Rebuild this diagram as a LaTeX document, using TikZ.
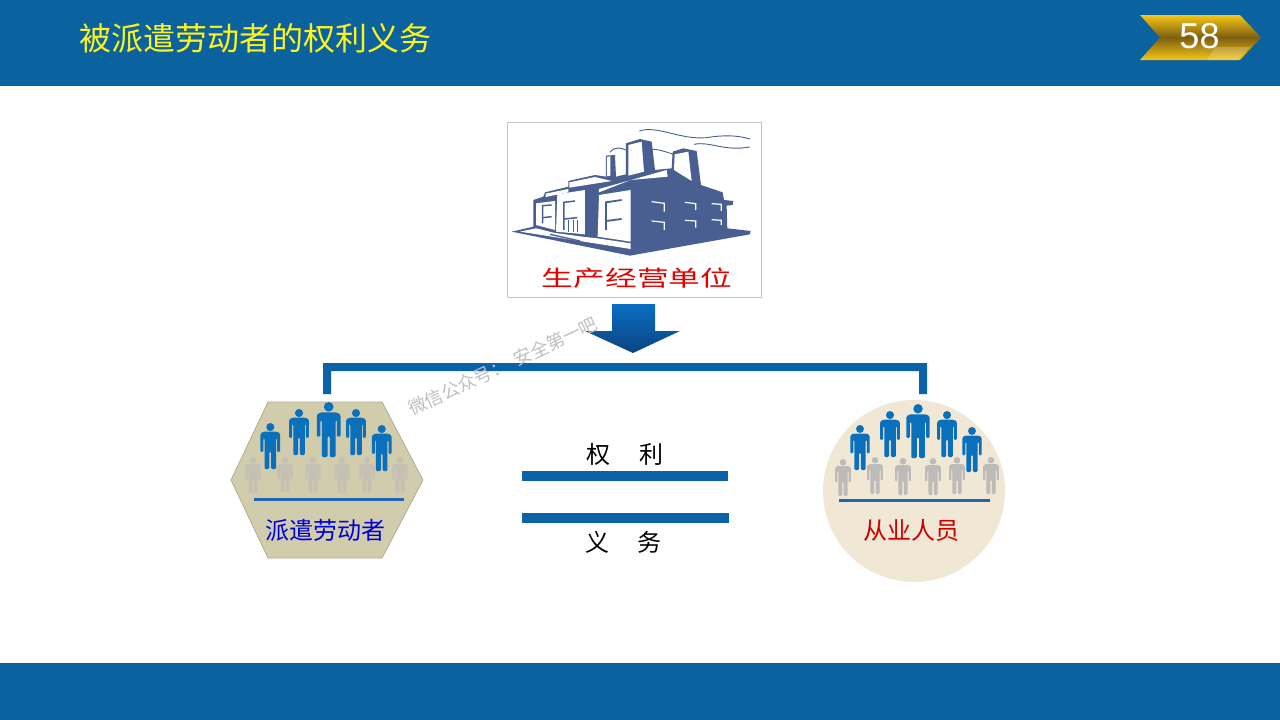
\documentclass[tikz,border=0pt]{standalone}
\usepackage{fontspec}
\setmainfont{Liberation Sans}
\newfontfamily\cjk{Noto Sans CJK SC}
\definecolor{bandblue}{HTML}{0A629F}
\definecolor{barblue}{HTML}{0B62A8}
\definecolor{personblue}{HTML}{0B70BB}
\definecolor{factoryblue}{HTML}{4A5F91}
\definecolor{hexfill}{HTML}{D1CCAB}
\definecolor{circfill}{HTML}{F0E8D4}
\definecolor{hexgray}{HTML}{C4C1B4}
\definecolor{circgray}{HTML}{BDBBB8}
\definecolor{rulecol}{HTML}{1F66AE}
\definecolor{goldlight}{HTML}{F5C518}
\definecolor{golddark}{HTML}{7E5F10}
\definecolor{arrowtop}{HTML}{0A6EC4}
\definecolor{arrowbot}{HTML}{0B4480}
\tikzset{
  band/.style={fill=bandblue,draw=none},
  barshape/.style={fill=barblue,draw=none},
  rulebar/.style={draw=rulecol,line width=3pt},
  txt/.style={inner sep=0pt,outer sep=0pt,font=\cjk},
  facewhite/.style={fill=white,draw=none},
  fstroke/.style={draw=factoryblue,line width=1.5pt,line cap=butt},
  wstroke/.style={draw=white,line width=1.2pt,line cap=butt},
  smoke/.style={draw=factoryblue,line width=.9pt}
}
% x, top, feet, colour
\newcommand{\figperson}[4]{%
  \pgfmathsetmacro{\hh}{#3-#2}%
  \begin{scope}[shift={(#1,#2)},scale=\hh]
    \fill[#4] (0,.088) circle (.088);
    \fill[#4,rounded corners=1.2pt] (-.15,.19) -- (.15,.19) -- (.215,.23) -- (.215,.63) -- (.15,.63) -- (.15,.33) -- (.125,.33) -- (.125,1) -- (.02,1) -- (.02,.62) -- (-.02,.62) -- (-.02,1) -- (-.125,1) -- (-.125,.33) -- (-.15,.33) -- (-.15,.63) -- (-.215,.63) -- (-.215,.23) -- cycle;
  \end{scope}}
\begin{document}
\begin{tikzpicture}[x=1pt,y=-1pt]
\useasboundingbox (0,0) rectangle (1280,720);
\fill[white] (0,0) rectangle (1280,720);
% bands
\path[band] (0,0) rectangle (1280,86);
\path[band] (0,663) rectangle (1280,720);
\node[txt,anchor=center,text=yellow!90!white,font=\cjk\fontsize{32}{32}\selectfont] (title) at (255.5,38) {被派遣劳动者的权利义务};
% badge
\path[top color=goldlight,bottom color=goldlight,middle color=golddark,draw=none]
  (1140,15) -- (1240,15) -- (1261,37.5) -- (1240,60) -- (1140,60) -- (1160,37.5) -- cycle;
\fill[white,opacity=.2] (1215,47) -- (1250,47) -- (1238,60) -- (1207,60) -- cycle;
\node[inner sep=0pt,text=white,font=\fontsize{36}{36}\selectfont] (num) at (1199.5,36) {58};
% factory frame
\draw[draw=black!23,line width=1pt,fill=white] (507,122) rectangle (761,297);
\begin{scope}[shift={(500,115)},x=.3333pt,y=-.3333pt]
  \fill[factoryblue] (35,350) -- (100,335) -- (100,255) -- (130,245) -- (135,232) -- (205,215) -- (205,198) -- (285,180) -- (318,185) -- (318,122) -- (345,120) -- (348,185) -- (378,178) -- (378,85) -- (420,72) -- (455,80) -- (465,165) -- (515,160) -- (518,110) -- (550,100) -- (590,108) -- (603,210) -- (668,232) -- (672,255) -- (700,258) -- (698,270) -- (680,272) -- (682,340) -- (752,348) -- (750,358) -- (390,422) -- cycle;
  % white faces
  \path[facewhite] (385,90) -- (425,80) -- (432,170) -- (385,182) -- cycle;
  \path[facewhite] (524,118) -- (565,110) -- (575,198) -- (522,165) -- cycle;
  \path[facewhite] (321,126) -- (331,124) -- (331,182) -- (321,184) -- cycle;
  \path[facewhite] (108,265) -- (165,258) -- (165,345) -- (108,330) -- cycle;
  \path[facewhite] (172,238) -- (255,225) -- (255,358) -- (168,350) -- cycle;
  \path[facewhite] (297,240) -- (392,225) -- (392,380) -- (293,365) -- cycle;
  \path[facewhite] (137,236) -- (205,222) -- (205,232) -- (137,246) -- cycle;
  \path[facewhite] (208,202) -- (285,186) -- (335,198) -- (208,218) -- cycle;
  \path[facewhite] (297,222) -- (500,165) -- (503,185) -- (392,195) -- (297,232) -- cycle;
  \path[facewhite] (60,350) -- (108,340) -- (165,354) -- (255,366) -- (292,370) -- (392,385) -- (392,402) -- cycle;
  \draw[factoryblue,line width=1.3pt] (150,358) -- (240,378);
  % window marks (dark)
  \draw[fstroke] (155,270) -- (128,272) -- (128,325);
  \draw[fstroke] (155,305) -- (128,308);
  \draw[fstroke] (225,258) -- (192,262) -- (192,345);
  \draw[fstroke] (232,308) -- (192,312);
  \draw[fstroke,line width=1pt] (207,315) -- (207,350);
  \draw[fstroke,line width=1pt] (220,315) -- (220,352);
  \draw[fstroke,line width=1pt] (232,315) -- (232,352);
  \draw[fstroke,line width=1.8pt] (365,255) -- (318,262) -- (318,345);
  \draw[fstroke,line width=1.8pt] (365,312) -- (318,318);
  % window marks (white)
  \draw[wstroke] (455,260) -- (493,265) -- (493,290);
  \draw[wstroke] (455,318) -- (493,322) -- (493,345);
  \draw[wstroke] (555,262) -- (587,266) -- (587,285);
  \draw[wstroke] (555,316) -- (587,318) -- (587,338);
  \draw[wstroke] (635,266) -- (664,268) -- (664,288);
  \draw[wstroke] (635,314) -- (664,316) -- (664,330);
  % smoke
  \draw[smoke] (418,48) .. controls (470,30) and (540,75) .. (620,68) .. controls (670,60) and (710,60) .. (750,72);
  \draw[smoke] (582,88) .. controls (630,78) and (670,110) .. (750,96);
  \draw[smoke] (330,112) .. controls (345,92) and (365,100) .. (378,105);
  \draw[smoke] (455,103) .. controls (475,102) and (495,110) .. (520,118);
\end{scope}
\node[txt,text=red!90!black,font=\cjk\fontsize{22}{22}\selectfont,xscale=1.44] (unit) at (637,278) {生产经营单位};
% arrow
\path[top color=arrowtop,bottom color=arrowbot,draw=none] (612,304) -- (655,304) -- (655,331) -- (680,331) -- (633,353) -- (585,331) -- (612,331) -- cycle;
% bracket
\path[barshape] (323,394) -- (323,363) -- (927,363) -- (927,394) -- (919,394) -- (919,371) -- (331,371) -- (331,394) -- cycle;
% watermark
\node[txt,text=black!25,rotate=25,font=\cjk\fontsize{18}{18}\selectfont] (wm) at (503,366) {微信公众号：\hspace{8pt}安全第一吧};
% hexagon
\draw[fill=hexfill,draw=hexfill!85!black,line width=.8pt] (268,402) -- (382,402) -- (423,480) -- (382,558) -- (268,558) -- (231,480) -- cycle;
\foreach \x/\t/\b in {253/457/493,285/457/492,313/457/493,342/457/493,367/457/492,400/457/493}{\figperson{\x}{\t}{\b}{hexgray}}
\foreach \x/\t/\b in {270.3/423/469,299/409/455,328.7/402/457,356/409/455,381.7/425/471}{\figperson{\x}{\t}{\b}{personblue}}
\draw[rulebar] (254,499) -- (404,499);
\node[txt,text=blue!85!black,font=\cjk\fontsize{24}{24}\selectfont] (pq) at (325,530) {派遣劳动者};
% circle
\fill[circfill] (914,491) circle (91);
\foreach \x/\t/\b in {843/459/496,875/457/494,903/458/495,933/458/495,957/457/494,991/457/494}{\figperson{\x}{\t}{\b}{circgray}}
\foreach \x/\t/\b in {860/425/470,890/411/457,918/404/458,947/411/457,972/427/472}{\figperson{\x}{\t}{\b}{personblue}}
\draw[rulebar] (839,500) -- (990,500);
\node[txt,text=red!80!black,font=\cjk\fontsize{24}{24}\selectfont] (cy) at (911,530) {从业人员};
% centre
\path[barshape] (522,471) rectangle (728,481);
\path[barshape] (522,513) rectangle (729,523);
\node[txt,font=\cjk\fontsize{24}{24}\selectfont] (q1) at (598,454) {权};
\node[txt,font=\cjk\fontsize{24}{24}\selectfont] (q2) at (651,454) {利};
\node[txt,font=\cjk\fontsize{24}{24}\selectfont] (y1) at (597,542) {义};
\node[txt,font=\cjk\fontsize{24}{24}\selectfont] (y2) at (649,542) {务};
\end{tikzpicture}
\end{document}
